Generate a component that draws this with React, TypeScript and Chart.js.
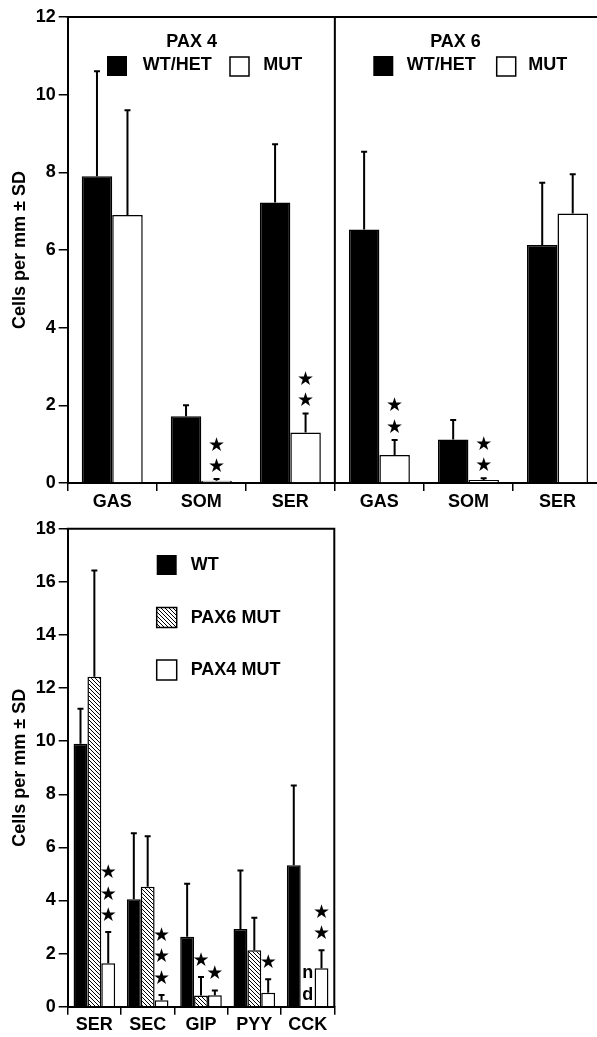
import React, { useEffect, useRef } from 'react';
import { Chart, registerables } from 'chart.js';

Chart.register(...registerables);

const FONT = "'Liberation Sans', Arial, Helvetica, sans-serif";
const STAR_FONT = "19px 'DejaVu Sans', sans-serif";

// ---------- Top panel data (PAX 4 | PAX 6) ----------
const topCategories = ['GAS', 'SOM', 'SER', 'GAS', 'SOM', 'SER'];
const topWtHet = [7.9, 1.72, 7.22, 6.53, 1.12, 6.13];
const topWtHetSD = [2.7, 0.28, 1.5, 2.0, 0.5, 1.6];
const topMut = [6.9, 0.06, 1.3, 0.72, 0.08, 6.94];
const topMutSD = [2.7, 0.04, 0.49, 0.39, 0.04, 1.01];
const topMutStars = [0, 2, 2, 2, 2, 0];
const topPanelTitles = ['PAX 4', 'PAX 6'];
const topLegendLabels = ['WT/HET', 'MUT'];
const topYMax = 12;
const topYStep = 2;

// ---------- Bottom panel data ----------
const botCategories = ['SER', 'SEC', 'GIP', 'PYY', 'CCK'];
const botWt = [9.9, 4.05, 2.63, 2.93, 5.33];
const botWtSD = [1.32, 2.48, 2.0, 2.2, 3.0];
const botPax6 = [12.43, 4.52, 0.42, 2.13, null];
const botPax6SD = [4.0, 1.9, 0.7, 1.22, null];
const botPax4 = [1.64, 0.24, 0.43, 0.53, 1.45];
const botPax4SD = [1.17, 0.2, 0.18, 0.5, 0.68];
const botPax6Stars = [0, 0, 1, 0, 0];
const botPax4Stars = [3, 3, 1, 1, 2];
const botLegendLabels = ['WT', 'PAX6 MUT', 'PAX4 MUT'];
const ndLetters = ['n', 'd'];
const botYMax = 18;
const botYStep = 2;

const Y_TITLE = 'Cells per mm \u00B1 SD';

function makeHatch(): CanvasPattern | string {
  const s = 4;
  const c = document.createElement('canvas');
  c.width = s;
  c.height = s;
  const g = c.getContext('2d');
  if (!g) return '#fff';
  g.fillStyle = '#fff';
  g.fillRect(0, 0, s, s);
  g.strokeStyle = '#000';
  g.lineWidth = 1;
  g.beginPath();
  g.moveTo(0, 0);
  g.lineTo(s, s);
  g.moveTo(-1, s - 1);
  g.lineTo(1, s + 1);
  g.moveTo(s - 1, -1);
  g.lineTo(s + 1, 1);
  g.stroke();
  const p = g.createPattern(c, 'repeat');
  return p || '#fff';
}

function drawErrors(chart: any, sds: (number | null)[][]) {
  const ctx = chart.ctx;
  const y = chart.scales.y;
  ctx.save();
  ctx.strokeStyle = '#000';
  ctx.lineWidth = 2;
  sds.forEach((sd, di) => {
    const meta = chart.getDatasetMeta(di);
    const data = chart.data.datasets[di].data as (number | null)[];
    meta.data.forEach((el: any, j: number) => {
      const v = data[j];
      const s = sd[j];
      if (v == null || s == null) return;
      const yt = y.getPixelForValue(v + s);
      const yb = y.getPixelForValue(v);
      ctx.beginPath();
      ctx.moveTo(el.x, yb);
      ctx.lineTo(el.x, yt);
      ctx.moveTo(el.x - 3, yt);
      ctx.lineTo(el.x + 3, yt);
      ctx.stroke();
    });
  });
  ctx.restore();
}

function drawStars(chart: any, di: number, counts: number[], sd: (number | null)[], first: number, gap: number) {
  const ctx = chart.ctx;
  const y = chart.scales.y;
  const meta = chart.getDatasetMeta(di);
  const data = chart.data.datasets[di].data as (number | null)[];
  ctx.save();
  ctx.fillStyle = '#000';
  ctx.font = STAR_FONT;
  ctx.textAlign = 'center';
  ctx.textBaseline = 'middle';
  counts.forEach((n, j) => {
    const v = data[j];
    const s = sd[j];
    if (!n || v == null) return;
    const el = meta.data[j];
    const yt = y.getPixelForValue(v + (s || 0));
    for (let k = 0; k < n; k++) {
      const cy = yt - first - k * gap;
      ctx.fillText('\u2605', el.x, cy);
    }
  });
  ctx.restore();
}

function boldText(ctx: CanvasRenderingContext2D, t: string, x: number, capCenterY: number, align: CanvasTextAlign = 'left') {
  ctx.font = `bold 18px ${FONT}`;
  ctx.fillStyle = '#000';
  ctx.textAlign = align;
  ctx.textBaseline = 'alphabetic';
  ctx.fillText(t, x, capCenterY + 6.4);
}

function scaleOpts(max: number, step: number, xHeight: number) {
  return {
    x: {
      grid: { offset: true, drawOnChartArea: false, color: '#000', tickColor: '#000', tickLength: 8, lineWidth: 1.5 },
      border: { display: true, color: '#000', width: 2 },
      ticks: { color: '#000', font: { family: FONT, size: 18, weight: 'bold' }, padding: 0, maxRotation: 0, autoSkip: false },
      afterFit: (s: any) => { s.height = xHeight; },
    },
    y: {
      min: 0,
      max,
      ticks: { stepSize: step, color: '#000', font: { family: FONT, size: 18, weight: 'bold' }, padding: 3 },
      grid: { drawOnChartArea: false, tickLength: 9, color: '#000', lineWidth: 1.5 },
      border: { display: true, color: '#000', width: 2 },
      title: { display: true, text: Y_TITLE, color: '#000', font: { family: FONT, size: 18, weight: 'bold' }, padding: { top: 9, bottom: 0 } },
      afterFit: (s: any) => { s.width = 67.7; },
    },
  };
}

export default function App() {
  const topRef = useRef<HTMLCanvasElement>(null);
  const botRef = useRef<HTMLCanvasElement>(null);

  useEffect(() => {
    const hatch = makeHatch();

    const topDecor = {
      id: 'topDecor',
      afterDatasetsDraw(chart: any) {
        const ctx = chart.ctx as CanvasRenderingContext2D;
        const { left, right, top, bottom } = chart.chartArea;
        const x = chart.scales.x;
        ctx.save();
        ctx.strokeStyle = '#000';
        ctx.lineWidth = 2;
        ctx.beginPath();
        ctx.moveTo(left - 1, top);
        ctx.lineTo(right, top);
        ctx.moveTo(right, top);
        ctx.lineTo(right, bottom);
        const xd = (x.getPixelForValue(2) + x.getPixelForValue(3)) / 2;
        ctx.moveTo(xd, top);
        ctx.lineTo(xd, bottom);
        ctx.stroke();
        ctx.restore();

        drawErrors(chart, [topWtHetSD, topMutSD]);
        drawStars(chart, 1, topMutStars, topMutSD, 12, 21.5);

        // legends
        ctx.save();
        const legends = [
          { title: 191.7, sq1: 107, t1: 142.7, sq2: 230, t2: 263.3 },
          { title: 455.5, sq1: 373.3, t1: 406.7, sq2: 496.7, t2: 528.3 },
        ];
        legends.forEach((L, i) => {
          boldText(ctx, topPanelTitles[i], L.title, 41, 'center');
          ctx.fillStyle = '#000';
          ctx.fillRect(L.sq1, 56, 20, 20);
          boldText(ctx, topLegendLabels[0], L.t1, 63.5);
          ctx.fillStyle = '#fff';
          ctx.fillRect(L.sq2, 57, 19, 19);
          ctx.strokeStyle = '#000';
          ctx.lineWidth = 1.5;
          ctx.strokeRect(L.sq2, 57, 19, 19);
          boldText(ctx, topLegendLabels[1], L.t2, 63.5);
        });
        ctx.restore();
      },
    };

    const botDecor = {
      id: 'botDecor',
      afterDatasetsDraw(chart: any) {
        const ctx = chart.ctx as CanvasRenderingContext2D;
        const { left, right, top, bottom } = chart.chartArea;
        ctx.save();
        ctx.strokeStyle = '#000';
        ctx.lineWidth = 2;
        ctx.beginPath();
        ctx.moveTo(left - 1, top);
        ctx.lineTo(right, top);
        ctx.lineTo(right, bottom);
        ctx.stroke();
        ctx.restore();

        drawErrors(chart, [botWtSD, botPax6SD, botPax4SD]);
        drawStars(chart, 1, botPax6Stars, botPax6SD, 16, 21.5);
        drawStars(chart, 2, botPax4Stars, botPax4SD, 16, 21.5);

        // "n d" for missing PAX6 CCK
        const meta = chart.getDatasetMeta(1);
        const el = meta.data[4];
        const nx = el && isFinite(el.x) ? el.x : 310;
        const y0 = chart.scales.y.getPixelForValue(0);
        ctx.save();
        ctx.font = `bold 18px ${FONT}`;
        ctx.fillStyle = '#000';
        ctx.textAlign = 'center';
        ctx.textBaseline = 'alphabetic';
        ctx.fillText(ndLetters[0], nx, y0 - 28.5);
        ctx.fillText(ndLetters[1], nx, y0 - 6.5);
        ctx.restore();

        // legend
        ctx.save();
        const off = 515;
        const rows = [555 - off, 607.5 - off, 660 - off];
        const fills: any[] = ['#000', hatch, '#fff'];
        rows.forEach((ry, i) => {
          ctx.fillStyle = fills[i];
          ctx.fillRect(156.7, ry, 20, 20);
          if (i > 0) {
            ctx.strokeStyle = '#000';
            ctx.lineWidth = 1.5;
            ctx.strokeRect(156.7, ry, 20, 20);
          }
          boldText(ctx, botLegendLabels[i], 190.7, ry + 9);
        });
        ctx.restore();
      },
    };

    const top = new Chart(topRef.current as HTMLCanvasElement, {
      type: 'bar',
      data: {
        labels: topCategories,
        datasets: [
          { label: topLegendLabels[0], data: topWtHet, backgroundColor: '#000', borderColor: '#000', borderWidth: 1.5 },
          { label: topLegendLabels[1], data: topMut, backgroundColor: '#fff', borderColor: '#000', borderWidth: 1.5 },
        ],
      },
      options: {
        animation: false,
        responsive: false,
        devicePixelRatio: 1,
        layout: { padding: { top: 17, right: 18, left: 0, bottom: 0 } },
        plugins: { legend: { display: false }, tooltip: { enabled: false } },
        datasets: { bar: { categoryPercentage: 0.685, barPercentage: 1 } },
        scales: scaleOpts(topYMax, topYStep, 32) as any,
      },
      plugins: [topDecor],
    });

    const bot = new Chart(botRef.current as HTMLCanvasElement, {
      type: 'bar',
      data: {
        labels: botCategories,
        datasets: [
          { label: botLegendLabels[0], data: botWt, backgroundColor: '#000', borderColor: '#000', borderWidth: 1.5 },
          { label: botLegendLabels[1], data: botPax6 as any, backgroundColor: hatch as any, borderColor: '#000', borderWidth: 1.5 },
          { label: botLegendLabels[2], data: botPax4, backgroundColor: '#fff', borderColor: '#000', borderWidth: 1.5 },
        ],
      },
      options: {
        animation: false,
        responsive: false,
        devicePixelRatio: 1,
        layout: { padding: { top: 9.3, right: 25.7, left: 0, bottom: 0 } },
        plugins: { legend: { display: false }, tooltip: { enabled: false } },
        datasets: { bar: { categoryPercentage: 0.78, barPercentage: 1 } },
        scales: scaleOpts(botYMax, botYStep, 30.3) as any,
      },
      plugins: [botDecor],
    });

    return () => {
      top.destroy();
      bot.destroy();
    };
  }, []);

  return (
    <div style={{ position: 'fixed', left: 0, top: 0, width: 597, height: 1037, overflow: 'hidden', background: '#fff' }}>
      <canvas ref={topRef} width={620} height={515} style={{ position: 'absolute', left: 0, top: 0, width: 620, height: 515 }} />
      <canvas ref={botRef} width={360} height={522} style={{ position: 'absolute', left: 0, top: 515, width: 360, height: 522 }} />
    </div>
  );
}
